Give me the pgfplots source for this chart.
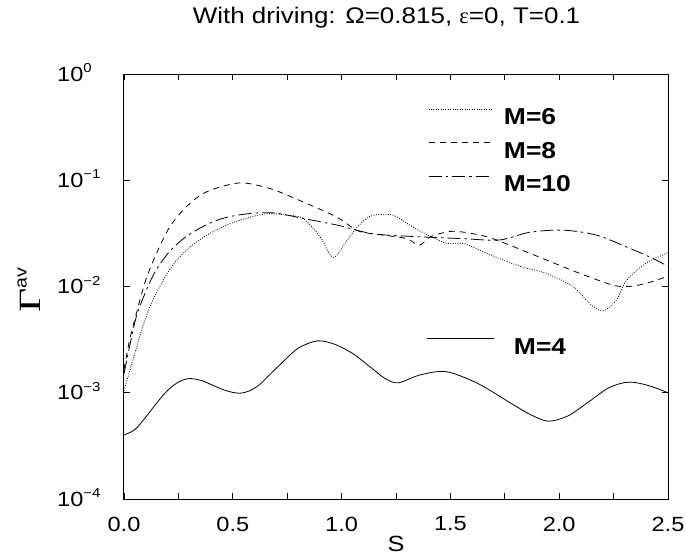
\documentclass[border=0pt]{standalone}
\usepackage{pgfplots}
\pgfplotsset{compat=1.18}
\usepackage{fontspec}
\setmainfont{Liberation Sans}[FakeStretch=1.15]
\newfontfamily\seriffont{Liberation Serif}
\newcommand{\tsup}[1]{\raisebox{8.5pt}{\fontsize{13}{14}\selectfont #1}}

\pgfplotstableread{
s y
0     4.0e-4
0.05  4.5e-4
0.10  5.9e-4
0.15  8.0e-4
0.20  1.05e-3
0.25  1.26e-3
0.30  1.36e-3
0.3575 1.30e-3
0.415 1.16e-3
0.4725 1.04e-3
0.53  9.9e-4
0.575 1.04e-3
0.62  1.18e-3
0.665 1.45e-3
0.71  1.78e-3
0.80  2.62e-3
0.89  3.08e-3
0.97  2.85e-3
1.05  2.35e-3
1.13  1.76e-3
1.20  1.36e-3
1.26  1.24e-3
1.36  1.47e-3
1.48  1.58e-3
1.627 1.22e-3
1.79  7.7e-4
1.87  6.2e-4
1.95  5.4e-4
2.04  6.05e-4
2.135 8.2e-4
2.23  1.12e-3
2.32  1.26e-3
2.41  1.17e-3
2.5   1.0e-3
}\mfour

\pgfplotstableread{
s y
0     1.05e-3
0.041 2.04e-3
0.087 4.22e-3
0.133 7.5e-3
0.21  0.01445
0.286 0.0219
0.378 0.0302
0.486 0.0389
0.593 0.0457
0.67  0.0486
0.75  0.0468
0.823 0.0437
0.90  0.0295
0.961 0.0188
1.02  0.0263
1.068 0.0355
1.129 0.0457
1.206 0.0479
1.25  0.0457
1.327 0.0363
1.41  0.0295
1.487 0.0254
1.56  0.0254
1.67  0.0204
1.82  0.0155
1.94  0.0133
2.063 0.0100
2.14  0.00692
2.20  0.00589
2.263 0.00746
2.31  0.01148
2.40  0.0166
2.49  0.0204
2.5   0.0209
}\msix

\pgfplotstableread{
s y
0     1.66e-3
0.026 3.16e-3
0.057 5.6e-3
0.10  0.0115
0.149 0.0204
0.21  0.0363
0.286 0.0562
0.378 0.0776
0.53  0.0944
0.67  0.0836
0.807 0.0646
0.976 0.0452
1.068 0.0339
1.129 0.0316
1.206 0.0302
1.30  0.0282
1.358 0.0245
1.41  0.0295
1.512 0.0331
1.635 0.0305
1.71  0.0275
1.79  0.0237
1.94  0.0178
2.094 0.0133
2.247 0.0103
2.32  0.0100
2.40  0.0107
2.49  0.0123
2.5   0.0126
}\meight

\pgfplotstableread{
s y
0     1.51e-3
0.03  3.0e-3
0.06  5.5e-3
0.11  0.0100
0.149 0.01445
0.21  0.0214
0.286 0.0295
0.378 0.038
0.47  0.0447
0.593 0.049
0.70  0.049
0.823 0.0437
0.976 0.038
1.068 0.0339
1.134 0.0316
1.206 0.0305
1.34  0.0295
1.45  0.0288
1.56  0.0282
1.726 0.0274
1.864 0.0324
2.017 0.0339
2.17  0.0305
2.324 0.0229
2.43  0.0184
2.5   0.0155
}\mten

\begin{document}
\begin{tikzpicture}
\begin{axis}[
  scale only axis, width=544pt, height=425pt,
  at={(0pt,0pt)}, anchor=south west,
  xmin=0, xmax=2.5, ymode=log, ymin=1e-4, ymax=1,
  legend image code/.code={\draw[#1] (0pt,8.2pt) -- (64pt,8.2pt);},
  axis line style={line width=1pt},
  tick style={line width=0.8pt, black},
  tick align=inside,
  major tick length=6pt, minor tick length=6pt,
  xtick={0,0.5,1,1.5,2,2.5},
  minor xtick={0.25,0.75,1.25,1.75,2.25},
  xticklabels={0.0,0.5,1.0,1.5,2.0,2.5},
  ytick={1e-4,1e-3,1e-2,1e-1,1},
  yticklabels={10\tsup{−4},10\tsup{−3},10\tsup{−2},10\tsup{−1},10\tsup{0}},
  yminorticks=false,
  tick label style={font=\fontsize{20.5}{24}\selectfont},
  xticklabel style={anchor=center, yshift=-25pt},
  yticklabel style={anchor=base west, inner sep=0pt, xshift=-67pt, yshift=-7pt},
  xlabel={S},
  xlabel style={font=\fontsize{22}{24}\selectfont, inner sep=0pt, at={(axis description cs:0.5,0)}, anchor=center, yshift=-45pt},
  legend style={draw=none, fill=none, inner sep=0pt,
    at={(axis description cs:0.5588,0.9195)}, anchor=north west,
    font=\fontsize{23}{24}\selectfont\bfseries,
    row sep=16pt,
    nodes={inner sep=0pt},
    /tikz/every odd column/.append style={column sep=11pt}},
  legend cell align=left,
]
\addplot[black, line width=0.8pt, dash pattern=on 0.9pt off 1.5pt, smooth] table {\msix};
\addlegendentry{M=6}
\addplot[black, line width=0.8pt, dash pattern=on 6pt off 5pt, smooth] table {\meight};
\addlegendentry{M=8}
\addplot[black, line width=0.8pt, dash pattern=on 13pt off 4pt on 2.5pt off 4pt, smooth] table {\mten};
\addlegendentry{M=10}
\addplot[black, line width=0.8pt, smooth, forget plot] table {\mfour};
\end{axis}
\begin{axis}[
  scale only axis, width=544pt, height=425pt,
  at={(0pt,0pt)}, anchor=south west,
  xmin=0, xmax=2.5, ymin=0, ymax=1,
  hide axis,
  legend style={draw=none, fill=none, inner sep=0pt,
    at={(axis description cs:0.5551,0.3785)}, anchor=north west,
    font=\fontsize{23}{24}\selectfont\bfseries,
    nodes={inner sep=0pt},
    /tikz/every odd column/.append style={column sep=20pt}},
  legend image code/.code={\draw[#1] (0pt,8.2pt) -- (67pt,8.2pt);},
]
\addlegendimage{black, line width=0.8pt}
\addlegendentry{M=4}
\end{axis}
\node[font=\fontsize{22.6}{24}\selectfont] at (262.5pt,481pt) {With driving: Ω=0.815, {\seriffont ε}=0, T=0.1};
\node[rotate=90, inner sep=0pt] at (-95pt,209pt) {\scalebox{1.35}[1]{\fontsize{31}{32}\seriffont Γ}\raisebox{14pt}{\fontsize{17}{18}\selectfont av}};
\pgfresetboundingbox
\path[use as bounding box] (-124pt,-56pt) rectangle (562pt,499pt);
\end{tikzpicture}
\end{document}
